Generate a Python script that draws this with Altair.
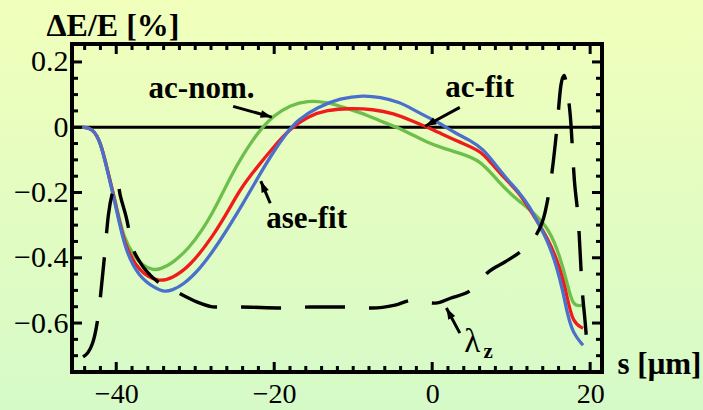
import math
import altair as alt
import pandas as pd

# ---------------- data ----------------
green_s = [-44.3, -43.0, -42.0, -41.1, -40.1, -39.0, -37.7, -36.7, -35.4, -34.4, -32.9, -30.8, -29.1, -27.8,
           -26.6, -25.3, -24.0, -22.8, -21.5, -20.1, -18.0, -15.8, -13.3, -10.8, -8.2, -6.2, -4.1, -2.4, -0.6,
           1.0, 3.5, 6.1, 8.2, 10.3, 12.8, 14.9, 16.2, 17.1, 17.8, 19.1]
green_e = [0.0, -0.003, -0.043, -0.132, -0.230, -0.345, -0.395, -0.423, -0.438, -0.435, -0.417, -0.371, -0.315,
           -0.262, -0.205, -0.142, -0.087, -0.042, 0.0, 0.035, 0.067, 0.082, 0.077, 0.058, 0.037, 0.015, -0.003,
           -0.025, -0.046, -0.061, -0.080, -0.101, -0.162, -0.214, -0.260, -0.315, -0.398, -0.478, -0.551, -0.545]

red_s = [-44.3, -43.0, -42.0, -41.1, -40.1, -39.0, -37.1, -34.6, -32.9, -30.8, -27.8, -25.3, -24.3, -22.2,
         -20.1, -18.0, -15.8, -13.3, -10.4, -7.5, -4.9, -2.4, -0.6, 1.0, 3.5, 6.1, 7.3, 9.0, 11.1, 12.8,
         14.6, 16.2, 17.1, 17.8, 19.1]
red_e = [0.0, -0.003, -0.043, -0.132, -0.230, -0.361, -0.444, -0.475, -0.462, -0.429, -0.337, -0.234, -0.190,
         -0.123, -0.061, -0.005, 0.033, 0.053, 0.058, 0.055, 0.043, 0.018, 0.0, -0.018, -0.046, -0.072, -0.105,
         -0.153, -0.202, -0.270, -0.337, -0.429, -0.521, -0.600, -0.616]

blue_s = [-44.3, -43.0, -42.0, -41.1, -40.1, -38.9, -37.1, -35.1, -33.9, -32.9, -31.6, -29.5, -27.0, -23.7,
          -21.8, -20.1, -18.4, -17.1, -14.6, -11.6, -8.7, -6.6, -4.1, -2.4, -0.6, 1.0, 2.7, 4.8, 6.5, 7.7,
          9.5, 11.1, 12.4, 13.2, 14.6, 15.8, 16.6, 17.1, 17.8, 19.1]
blue_e = [0.0, -0.003, -0.043, -0.135, -0.236, -0.377, -0.459, -0.493, -0.505, -0.499, -0.484, -0.438, -0.355,
          -0.224, -0.143, -0.075, -0.017, 0.021, 0.061, 0.089, 0.098, 0.092, 0.077, 0.054, 0.031, 0.012,
          -0.015, -0.040, -0.068, -0.105, -0.160, -0.202, -0.245, -0.285, -0.346, -0.429, -0.508, -0.570,
          -0.631, -0.668]

lam_s = [-44.2, -43.0, -42.4, -41.5, -41.0, -40.4, -39.9, -39.5, -38.7, -38.0, -37.0, -35.7, -34.8, -33.2,
         -31.3, -29.4, -27.5, -24.3, -19.2, -15.4, -11.0, -7.6, -4.7, -2.5, 0.4, 2.3, 5.1, 7.1, 9.2, 11.4,
         13.0, 14.3, 15.2, 15.8, 16.3, 16.7, 17.1, 17.5, 18.0, 18.5, 19.0, 19.4, 19.7]
lam_v = [-0.704, -0.662, -0.597, -0.398, -0.270, -0.193, -0.162, -0.208, -0.279, -0.361, -0.413, -0.453,
         -0.472, -0.493, -0.518, -0.539, -0.551, -0.551, -0.554, -0.551, -0.551, -0.554, -0.545, -0.530,
         -0.539, -0.524, -0.496, -0.444, -0.413, -0.377, -0.337, -0.260, -0.132, 0.0, 0.129, 0.159, 0.113,
         0.031, -0.162, -0.285, -0.499, -0.606, -0.698]

x_major = [-40, -20, 0, 20]
x_minor = [v for v in range(-44, 21, 2) if v not in x_major]
y_major = [-0.6, -0.4, -0.2, 0.0, 0.2]
y_minor = [-0.7, -0.65, -0.55, -0.5, -0.45, -0.35, -0.3, -0.25, -0.15, -0.1, -0.05, 0.05, 0.1, 0.15]

label_text = ["ac-nom.", "ac-fit", "ase-fit"]
label_s = [-29.2, 6.0, -15.9]
label_e = [0.089, 0.092, -0.309]

arrow_tail_s = [-25.2, 3.5, -20.5, 3.5]
arrow_tail_e = [0.064, 0.061, -0.233, -0.631]
arrow_tip_s = [-20.3, -0.9, -21.7, 1.8]
arrow_tip_e = [0.031, 0.003, -0.165, -0.554]

# ---------------- layout ----------------
W, H = 530, 328
X_DOM = [-45.6, 21.5]
Y_DOM = [-0.75, 0.255]
SERIF = "Liberation Serif"

xs = alt.Scale(domain=X_DOM, nice=False, zero=False)
ys = alt.Scale(domain=Y_DOM, nice=False, zero=False)

XA = alt.Axis(values=x_major, format="d", ticks=False, domain=False, grid=False, zindex=5,
              labelFont=SERIF, labelFontSize=28, labelColor="black", labelPadding=8,
              title="s [μm]", titleFont=SERIF, titleFontSize=31, titleFontWeight="bold",
              titleColor="black", titleAlign="left", titleBaseline="alphabetic",
              titleX=545, titleY=1)
YA = alt.Axis(values=y_major, labelExpr="datum.value == 0 ? '0' : format(datum.value, '.1f')",
              ticks=False, domain=False, grid=False, zindex=5, labelFont=SERIF, labelFontSize=30,
              labelColor="black", labelPadding=4,
              title="ΔE/E [%]", titleFont=SERIF, titleFontSize=32, titleFontWeight="bold",
              titleColor="black", titleAngle=0, titleAlign="left", titleBaseline="alphabetic",
              titleX=-26, titleY=-9)


def X(f):
    return alt.X(f, scale=xs, axis=XA)


def Y(f):
    return alt.Y(f, scale=ys, axis=YA)


def one():
    return alt.Chart(pd.DataFrame({"k": [0]}))


bg = one().mark_rect(
    fill=alt.Gradient(gradient="linear", x1=0, x2=0, y1=0, y2=1,
                      stops=[alt.GradientStop(offset=0, color="#f1ffbb"),
                             alt.GradientStop(offset=1, color="#d5fac8")]),
).encode(x=alt.value(-72), x2=alt.value(703 - 72), y=alt.value(-44), y2=alt.value(410 - 44))

zero_line = one().mark_rule(color="black", strokeWidth=3).encode(
    y=Y("z:Q"), x=alt.value(0), x2=alt.value(W)
).transform_calculate(z="0")


def line(s, v, color, dash=None):
    df = pd.DataFrame({"s": s, "v": v})
    kw = dict(color=color, strokeWidth=3.3, interpolate="basis", clip=True)
    if dash:
        kw["strokeDash"] = dash
        kw["strokeWidth"] = 3.4
        kw["interpolate"] = "monotone"
    return alt.Chart(df).mark_line(**kw).encode(x=X("s:Q"), y=Y("v:Q"))


green = line(green_s, green_e, "#6cbf4a")
red = line(red_s, red_e, "#f01b1b")
blue = line(blue_s, blue_e, "#4a70cc")
lam = line(lam_s, lam_v, "black", dash=[40, 24])


def xticks(vals, length, top):
    df = pd.DataFrame({"t": vals})
    y0 = 0 if top else H
    y1 = length if top else H - length
    return alt.Chart(df).mark_rule(color="black", strokeWidth=3).encode(
        x=X("t:Q"), y=alt.value(y0), y2=alt.value(y1))


def yticks(vals, length, right):
    df = pd.DataFrame({"t": vals})
    x0 = W if right else 0
    x1 = W - length if right else length
    return alt.Chart(df).mark_rule(color="black", strokeWidth=3).encode(
        y=Y("t:Q"), x=alt.value(x0), x2=alt.value(x1))


ticks = [xticks(x_major, 10, False), xticks(x_minor, 6, False),
         xticks(x_major, 10, True), xticks(x_minor, 6, True),
         yticks(y_major, 10, False), yticks(y_minor, 6, False),
         yticks(y_major, 10, True), yticks(y_minor, 6, True)]

frame = one().mark_rect(filled=False, stroke="black", strokeWidth=4).encode(
    x=alt.value(0), x2=alt.value(W), y=alt.value(0), y2=alt.value(H))

labels = alt.Chart(pd.DataFrame({"s": label_s, "v": label_e, "t": label_text})).mark_text(
    font=SERIF, fontSize=31, fontWeight="bold", color="black", align="center", baseline="alphabetic"
).encode(x=X("s:Q"), y=Y("v:Q"), text="t:N")

lam_lbl = alt.Chart(pd.DataFrame({"s": [5.06], "v": [-0.689], "t": ["λ"]})).mark_text(
    font=SERIF, fontSize=33, color="black", align="center", baseline="alphabetic"
).encode(x=X("s:Q"), y=Y("v:Q"), text="t:N")
z_lbl = alt.Chart(pd.DataFrame({"s": [7.1], "v": [-0.708], "t": ["z"]})).mark_text(
    font=SERIF, fontSize=21, fontWeight="bold", color="black", align="center", baseline="alphabetic"
).encode(x=X("s:Q"), y=Y("v:Q"), text="t:N")

# arrows
sx = W / (X_DOM[1] - X_DOM[0])
sy = H / (Y_DOM[1] - Y_DOM[0])
angs = []
for ts, te, ps, pe in zip(arrow_tail_s, arrow_tail_e, arrow_tip_s, arrow_tip_e):
    dx = (ps - ts) * sx
    dy = -(pe - te) * sy
    angs.append(math.degrees(math.atan2(dx, -dy)) % 360)
arr_df = pd.DataFrame({"s": arrow_tail_s, "v": arrow_tail_e, "s2": arrow_tip_s, "v2": arrow_tip_e, "a": angs})
shafts = alt.Chart(arr_df).mark_rule(color="black", strokeWidth=3).encode(
    x=X("s:Q"), y=Y("v:Q"), x2="s2:Q", y2="v2:Q")
heads = alt.Chart(arr_df).mark_point(
    shape="M0,0 L-0.45,1.3 L0.45,1.3 Z", filled=True, color="black", opacity=1, size=300, strokeWidth=0
).encode(x=X("s2:Q"), y=Y("v2:Q"), angle=alt.Angle("a:Q", scale=None))

chart = alt.layer(bg, zero_line, green, red, blue, lam, *ticks, frame, labels, lam_lbl, z_lbl, shafts, heads).properties(
    width=W, height=H, autosize="none",
    padding={"left": 72, "top": 44, "right": 703 - 72 - W, "bottom": 410 - 44 - H},
).configure(background="#e3fcc3").configure_view(stroke=None)

chart.save("out.html", embed_options={"renderer": "svg", "actions": False})
